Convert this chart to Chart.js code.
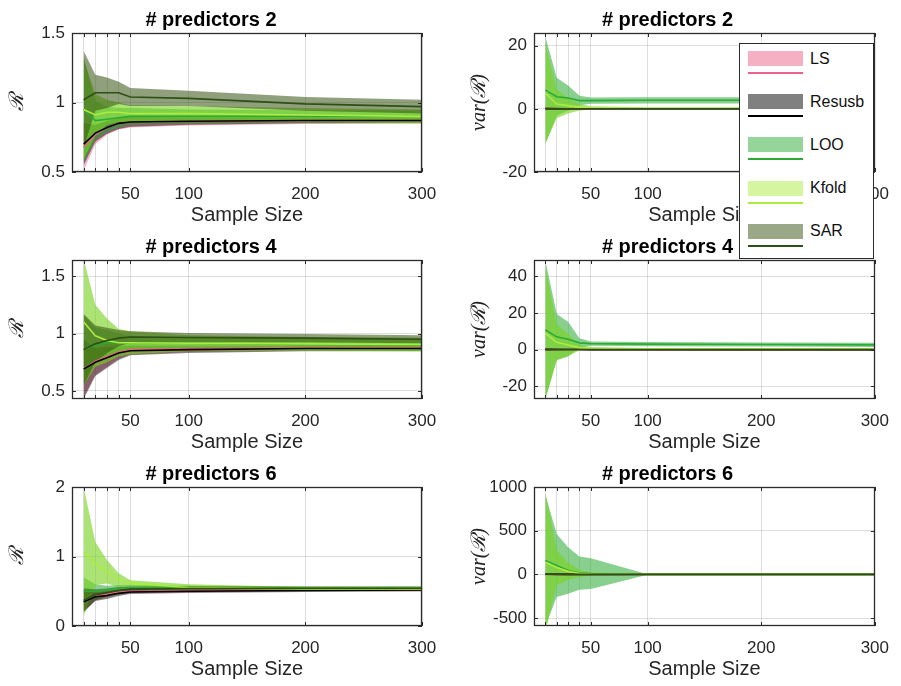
<!DOCTYPE html>
<html>
<head>
<meta charset="utf-8">
<script src="https://cdn.jsdelivr.net/npm/chart.js@4.4.0/dist/chart.umd.min.js"></script>
<style>
    html, body { margin: 0; padding: 0; background: #fff; }
    #page { position: relative; width: 901px; height: 686px; overflow: hidden; }
    .panel { position: absolute; }
    #legend {
        position: absolute; left: 739px; top: 43px; width: 133px; height: 214px;
        background: #fff; border: 1px solid #2b2b2b; z-index: 5;
        font-family: "Liberation Sans", Arial, Helvetica, sans-serif; font-size: 16px; color: #111;
    }
    #legend .patch { position: absolute; left: 8px; width: 55px; height: 15px; }
    #legend .swatch { position: absolute; left: 8px; width: 55px; height: 2px; }
    #legend .name { position: absolute; left: 70px; line-height: 18px; }
</style>
</head>
<body>
<div id="page">
    <div class="panel" style="left:0px;top:0px"><canvas id="r2" width="450" height="228"></canvas></div>
    <div class="panel" style="left:450px;top:0px"><canvas id="v2" width="451" height="228"></canvas></div>
    <div class="panel" style="left:0px;top:227px"><canvas id="r4" width="450" height="228"></canvas></div>
    <div class="panel" style="left:450px;top:227px"><canvas id="v4" width="451" height="228"></canvas></div>
    <div class="panel" style="left:0px;top:454px"><canvas id="r6" width="450" height="228"></canvas></div>
    <div class="panel" style="left:450px;top:454px"><canvas id="v6" width="451" height="228"></canvas></div>
    <div id="legend"></div>
</div>
<script>
// sample sizes on the x axis
const sampleSize = [10, 20, 30, 40, 50, 100, 200, 300];
const xTickValues = [10, 20, 30, 40, 50, 100, 200, 300];
const xTickLabels = [50, 100, 200, 300];

const methods = ['LS', 'Resusb', 'LOO', 'Kfold', 'SAR'];

// R, 2 predictors
const lsMeanR2 = [0.68, 0.77, 0.82, 0.85, 0.86, 0.865, 0.87, 0.87];
const lsSdR2 = [0.17, 0.07, 0.05, 0.045, 0.04, 0.03, 0.025, 0.02];
const resMeanR2 = [0.70, 0.78, 0.82, 0.85, 0.86, 0.865, 0.87, 0.87];
const resSdR2 = [0.15, 0.06, 0.045, 0.04, 0.035, 0.025, 0.02, 0.02];
const looMeanR2 = [0.95, 0.87, 0.88, 0.89, 0.90, 0.90, 0.90, 0.90];
const looSdR2 = [0.38, 0.14, 0.09, 0.07, 0.06, 0.05, 0.045, 0.045];
const kfoldMeanR2 = [0.95, 0.91, 0.93, 0.93, 0.92, 0.92, 0.91, 0.90];
const kfoldSdR2 = [0.36, 0.15, 0.09, 0.07, 0.06, 0.055, 0.05, 0.05];
const sarMeanR2 = [1.02, 1.07, 1.07, 1.07, 1.04, 1.03, 0.99, 0.97];
const sarSdR2 = [0.35, 0.13, 0.11, 0.08, 0.065, 0.055, 0.05, 0.05];

// var(R), 2 predictors
const lsMeanV2 = [0.05, 0.03, 0.02, 0.02, 0.01, 0.01, 0.01, 0.01];
const lsSdV2 = [0.3, 0.15, 0.1, 0.08, 0.06, 0.04, 0.03, 0.03];
const resMeanV2 = [0.04, 0.03, 0.02, 0.01, 0.01, 0.01, 0.01, 0.01];
const resSdV2 = [0.25, 0.12, 0.09, 0.07, 0.05, 0.03, 0.02, 0.02];
const looMeanV2 = [5.9, 3.8, 3.4, 2.6, 2.6, 2.7, 2.7, 2.7];
const looSdV2 = [17, 6, 4, 1.5, 1.0, 1.0, 1.0, 1.0];
const kfoldMeanV2 = [5.0, 1.5, 1.0, 0.5, 0.3, 0.2, 0.2, 0.2];
const kfoldSdV2 = [16, 4.5, 2.5, 1.0, 0.5, 0.3, 0.3, 0.3];
const sarMeanV2 = [0.08, 0.05, 0.04, 0.03, 0.02, 0.02, 0.01, 0.01];
const sarSdV2 = [0.4, 0.2, 0.14, 0.1, 0.08, 0.05, 0.04, 0.03];

// R, 4 predictors
const lsMeanR4 = [0.69, 0.76, 0.80, 0.84, 0.86, 0.87, 0.875, 0.875];
const lsSdR4 = [0.24, 0.12, 0.09, 0.06, 0.045, 0.03, 0.025, 0.025];
const resMeanR4 = [0.69, 0.75, 0.79, 0.83, 0.85, 0.86, 0.87, 0.87];
const resSdR4 = [0.26, 0.12, 0.09, 0.06, 0.04, 0.03, 0.025, 0.025];
const looMeanR4 = [0.86, 0.90, 0.92, 0.92, 0.92, 0.915, 0.905, 0.90];
const looSdR4 = [0.30, 0.15, 0.11, 0.08, 0.06, 0.05, 0.05, 0.05];
const kfoldMeanR4 = [1.10, 0.98, 0.94, 0.92, 0.92, 0.915, 0.91, 0.905];
const kfoldSdR4 = [0.55, 0.27, 0.19, 0.12, 0.10, 0.07, 0.06, 0.06];
const sarMeanR4 = [0.86, 0.91, 0.94, 0.96, 0.97, 0.965, 0.96, 0.95];
const sarSdR4 = [0.31, 0.16, 0.11, 0.07, 0.05, 0.04, 0.035, 0.035];

// var(R), 4 predictors
const lsMeanV4 = [0.1, 0.06, 0.04, 0.03, 0.02, 0.02, 0.01, 0.01];
const lsSdV4 = [0.6, 0.3, 0.2, 0.15, 0.1, 0.06, 0.05, 0.05];
const resMeanV4 = [0.08, 0.05, 0.04, 0.03, 0.02, 0.01, 0.01, 0.01];
const resSdV4 = [0.5, 0.25, 0.18, 0.12, 0.1, 0.05, 0.04, 0.04];
const looMeanV4 = [10.7, 7.0, 5.7, 3.7, 3.3, 3.0, 2.8, 2.6];
const looSdV4 = [38, 12.5, 9.5, 2.5, 1.2, 1.2, 1.1, 1.1];
const kfoldMeanV4 = [9.0, 4.0, 2.5, 1.0, 0.6, 0.4, 0.3, 0.3];
const kfoldSdV4 = [36, 10, 6, 1.5, 0.8, 0.5, 0.4, 0.4];
const sarMeanV4 = [0.15, 0.1, 0.07, 0.05, 0.04, 0.03, 0.02, 0.02];
const sarSdV4 = [0.8, 0.4, 0.3, 0.2, 0.15, 0.1, 0.08, 0.06];

// R, 6 predictors
const lsMeanR6 = [0.36, 0.43, 0.46, 0.49, 0.50, 0.51, 0.52, 0.52];
const lsSdR6 = [0.14, 0.06, 0.05, 0.04, 0.03, 0.025, 0.02, 0.02];
const resMeanR6 = [0.35, 0.42, 0.44, 0.47, 0.49, 0.50, 0.51, 0.52];
const resSdR6 = [0.15, 0.06, 0.05, 0.04, 0.03, 0.025, 0.02, 0.02];
const looMeanR6 = [0.50, 0.50, 0.52, 0.54, 0.55, 0.55, 0.54, 0.54];
const looSdR6 = [0.20, 0.10, 0.06, 0.05, 0.04, 0.03, 0.03, 0.03];
const kfoldMeanR6 = [1.07, 0.90, 0.78, 0.66, 0.62, 0.55, 0.53, 0.53];
const kfoldSdR6 = [0.93, 0.31, 0.17, 0.10, 0.04, 0.05, 0.03, 0.03];
const sarMeanR6 = [0.37, 0.45, 0.48, 0.51, 0.53, 0.54, 0.54, 0.54];
const sarSdR6 = [0.17, 0.08, 0.06, 0.05, 0.04, 0.03, 0.03, 0.03];

// var(R), 6 predictors
const lsMeanV6 = [2, 1, 0.5, 0.4, 0.3, 0.2, 0.1, 0.1];
const lsSdV6 = [8, 4, 3, 2, 1.5, 1, 0.5, 0.5];
const resMeanV6 = [1.5, 0.8, 0.5, 0.3, 0.2, 0.1, 0.1, 0.1];
const resSdV6 = [7, 3.5, 2.5, 2, 1.2, 0.8, 0.5, 0.5];
const looMeanV6 = [160, 102, 45, 16, 10, 0, 0, 0];
const looSdV6 = [750, 360, 265, 190, 176, 3, 2, 2];
const kfoldMeanV6 = [140, 80, 35, 10, 5, 0, 0, 0];
const kfoldSdV6 = [800, 200, 100, 40, 20, 2, 1, 1];
const sarMeanV6 = [3, 1.5, 1, 0.6, 0.4, 0.2, 0.1, 0.1];
const sarSdV6 = [12, 6, 4, 3, 2, 1, 0.8, 0.8];

// y ticks per panel
const yTicksR2 = [0.5, 1, 1.5];
const yTicksV2 = [-20, 0, 20];
const yTicksR4 = [0.5, 1, 1.5];
const yTicksV4 = [-20, 0, 20, 40];
const yTicksR6 = [0, 1, 2];
const yTicksV6 = [-500, 0, 500, 1000];

const lineColors = ['rgb(237,97,137)', 'rgb(0,0,0)', 'rgb(43,171,53)', 'rgb(173,235,65)', 'rgb(45,80,20)'];
const bandColors = ['rgba(237,97,137,0.5)', 'rgba(0,0,0,0.45)', 'rgba(40,170,50,0.55)', 'rgba(120,210,30,0.62)', 'rgba(53,81,17,0.55)'];
const patchColors = ['#f6b0c4', '#808080', '#95d59a', '#d6f5a0', '#9aa888'];

const sansFont = '"Liberation Sans", Arial, Helvetica, sans-serif';
const mathFont = '"Liberation Serif", "DejaVu Serif", serif';

Chart.defaults.font.family = sansFont;
Chart.defaults.color = '#262626';

const panels = [
    { id: 'r2', title: '# predictors 2', yTitle: 'ℛ', min: 0.5, max: 1.5, ticks: yTicksR2, right: false,
      means: [lsMeanR2, resMeanR2, looMeanR2, kfoldMeanR2, sarMeanR2], sds: [lsSdR2, resSdR2, looSdR2, kfoldSdR2, sarSdR2] },
    { id: 'v2', title: '# predictors 2', yTitle: 'var(ℛ)', min: -20, max: 24, ticks: yTicksV2, right: true,
      means: [lsMeanV2, resMeanV2, looMeanV2, kfoldMeanV2, sarMeanV2], sds: [lsSdV2, resSdV2, looSdV2, kfoldSdV2, sarSdV2] },
    { id: 'r4', title: '# predictors 4', yTitle: 'ℛ', min: 0.43, max: 1.64, ticks: yTicksR4, right: false,
      means: [lsMeanR4, resMeanR4, looMeanR4, kfoldMeanR4, sarMeanR4], sds: [lsSdR4, resSdR4, looSdR4, kfoldSdR4, sarSdR4] },
    { id: 'v4', title: '# predictors 4', yTitle: 'var(ℛ)', min: -27, max: 49, ticks: yTicksV4, right: true,
      means: [lsMeanV4, resMeanV4, looMeanV4, kfoldMeanV4, sarMeanV4], sds: [lsSdV4, resSdV4, looSdV4, kfoldSdV4, sarSdV4] },
    { id: 'r6', title: '# predictors 6', yTitle: 'ℛ', min: 0, max: 2, ticks: yTicksR6, right: false,
      means: [lsMeanR6, resMeanR6, looMeanR6, kfoldMeanR6, sarMeanR6], sds: [lsSdR6, resSdR6, looSdR6, kfoldSdR6, sarSdR6] },
    { id: 'v6', title: '# predictors 6', yTitle: 'var(ℛ)', min: -590, max: 1000, ticks: yTicksV6, right: true,
      means: [lsMeanV6, resMeanV6, looMeanV6, kfoldMeanV6, sarMeanV6], sds: [lsSdV6, resSdV6, looSdV6, kfoldSdV6, sarSdV6] }
];

// axes box with inward tick marks, drawn over everything
const boxPlugin = {
    id: 'axesBox',
    afterDraw(chart) {
        const { ctx, chartArea: a, scales: { x, y } } = chart;
        ctx.save();
        ctx.strokeStyle = '#2b2b2b';
        ctx.lineWidth = 1;
        ctx.beginPath();
        x.ticks.forEach(t => {
            const px = Math.round(x.getPixelForValue(t.value)) + 0.5;
            ctx.moveTo(px, a.bottom); ctx.lineTo(px, a.bottom - 4);
            ctx.moveTo(px, a.top); ctx.lineTo(px, a.top + 4);
        });
        y.ticks.forEach(t => {
            const py = Math.round(y.getPixelForValue(t.value)) + 0.5;
            ctx.moveTo(a.left, py); ctx.lineTo(a.left + 4, py);
            ctx.moveTo(a.right, py); ctx.lineTo(a.right - 4, py);
        });
        ctx.stroke();
        ctx.lineWidth = 1.3;
        ctx.strokeRect(Math.round(a.left) + 0.5, Math.round(a.top) + 0.5, Math.round(a.width) - 1, Math.round(a.height) - 1);
        ctx.restore();
    }
};

const buildDatasets = (means, sds) => {
    const sets = [];
    means.forEach((m, k) => {
        const sd = sds[k];
        sets.push({
            data: sampleSize.map((n, i) => ({ x: n, y: m[i] - sd[i] })),
            borderColor: 'transparent', borderWidth: 0, pointRadius: 0, fill: false
        });
        sets.push({
            data: sampleSize.map((n, i) => ({ x: n, y: m[i] + sd[i] })),
            borderColor: 'transparent', borderWidth: 0, pointRadius: 0,
            fill: '-1', backgroundColor: bandColors[k]
        });
    });
    means.forEach((m, k) => {
        sets.push({
            data: sampleSize.map((n, i) => ({ x: n, y: m[i] })),
            borderColor: lineColors[k], borderWidth: 1.6, pointRadius: 0, fill: false
        });
    });
    // earlier datasets go underneath
    sets.forEach((s, i) => { s.order = sets.length - i; s.tension = 0; });
    return sets;
};

panels.forEach(p => {
    const ctx = document.getElementById(p.id).getContext('2d');
    new Chart(ctx, {
        type: 'line',
        data: { datasets: buildDatasets(p.means, p.sds) },
        plugins: [boxPlugin],
        options: {
            responsive: false,
            animation: false,
            layout: { padding: { left: 0, right: p.right ? 16 : 28, top: 0, bottom: 0 } },
            plugins: {
                legend: { display: false },
                tooltip: { enabled: false },
                title: {
                    display: true,
                    text: p.title,
                    color: '#000',
                    font: { size: 20, weight: 'bold', lineHeight: 1.1 },
                    padding: { top: 9, bottom: 2 }
                }
            },
            scales: {
                x: {
                    type: 'linear',
                    min: 0,
                    max: 300,
                    afterBuildTicks: (scale) => { scale.ticks = xTickValues.map(v => ({ value: v })); },
                    afterFit: (scale) => { scale.height = 56; },
                    ticks: {
                        autoSkip: false, maxRotation: 0, padding: 12,
                        font: { size: 17 },
                        callback: (v) => xTickLabels.includes(v) ? String(v) : ''
                    },
                    grid: { color: 'rgba(0,0,0,0.13)', drawTicks: false },
                    border: { display: false },
                    title: { display: true, text: 'Sample Size', font: { size: 20 }, padding: { top: 0, bottom: 1 } }
                },
                y: {
                    min: p.min,
                    max: p.max,
                    afterBuildTicks: (scale) => { scale.ticks = p.ticks.map(v => ({ value: v })); },
                    afterFit: (scale) => { scale.width = p.right ? 84 : 72; },
                    ticks: { padding: 7, font: { size: 17 }, callback: (v) => String(v) },
                    grid: { color: 'rgba(0,0,0,0.13)', drawTicks: false },
                    border: { display: false },
                    title: {
                        display: true, text: p.yTitle, color: '#222',
                        font: { family: mathFont, size: 20, style: 'italic' },
                        padding: { top: p.right ? 18 : 6, bottom: 0 }
                    }
                }
            }
        }
    });
});

// legend: a patch row and a line row per method
const legendEl = document.getElementById('legend');
legendEl.innerHTML = methods.map((name, k) => {
    const top = 7 + k * 43.2;
    return `
        <div class="patch" style="top:${top}px;background:${patchColors[k]}"></div>
        <div class="name" style="top:${top - 1.5}px">${name}</div>
        <div class="swatch" style="top:${top + 21}px;background:${lineColors[k]}"></div>
    `;
}).join('');
</script>
</body>
</html>
